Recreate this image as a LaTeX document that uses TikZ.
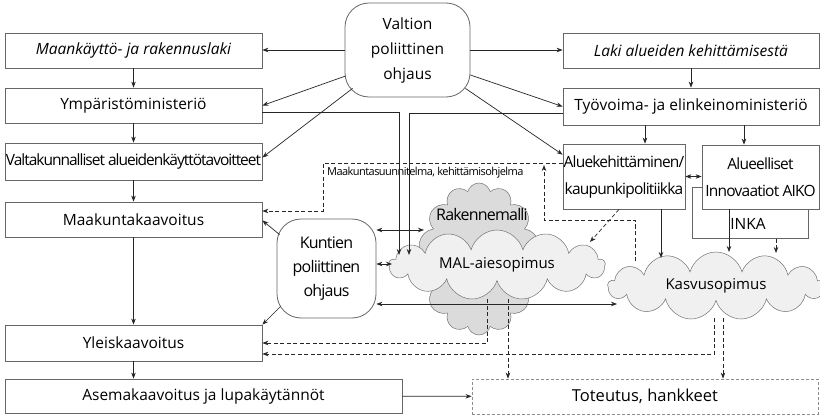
\documentclass[tikz,border=0pt]{standalone}
\usepackage{fontspec}
\setmainfont{Open Sans}
\newfontfamily\tightfont[LetterSpace=-5]{Open Sans}
\newfontfamily\tighterfont[LetterSpace=-6.5]{Open Sans}
\usetikzlibrary{shapes.symbols,calc,arrows.meta}
\begin{document}
\begin{tikzpicture}[x=1pt,y=-1pt,
 conn/.style={draw=black!85,line width=0.7pt},
 arr/.style={conn,-{Stealth[length=6pt,width=4.5pt]}},
 darr/.style={conn,{Stealth[length=6pt,width=4.5pt]}-{Stealth[length=6pt,width=4.5pt]}},
 dsh/.style={dash pattern=on 4pt off 2.5pt},
 box/.style={draw=black!60,line width=0.8pt,fill=white,inner sep=0pt,align=center,font=\fontsize{15.5}{18}\selectfont},
 rbox/.style={box,rounded corners=24pt},
 cl/.style={cloud,cloud puffs=13,cloud ignores aspect,draw=black!55,line width=0.5pt,inner sep=0pt,font=\fontsize{15}{18}\selectfont},
 txt/.style={inner sep=0pt,align=center,font=\fontsize{15}{18}\selectfont},
]
\useasboundingbox (0,0) rectangle (820,417);
\fill[white] (0,0) rectangle (820,417);

% left column
\node[box,minimum width=257pt,minimum height=35pt] (mrl) at (133.5,50.5) {\itshape Maankäyttö- ja rakennuslaki};
\node[box,minimum width=257pt,minimum height=35pt] (ym) at (133.5,105.5) {Ympäristöministeriö};
\node[box,minimum width=257pt,minimum height=37pt] (vat) at (133.5,161.5) {\tighterfont Valtakunnalliset alueidenkäyttötavoitteet};
\node[box,minimum width=257pt,minimum height=35pt] (mkk) at (133.5,219.5) {Maakuntakaavoitus};
\node[box,minimum width=257pt,minimum height=36pt] (yk) at (133.5,343) {Yleiskaavoitus};
\node[box,minimum width=397pt,minimum height=34pt] (ak) at (203.5,396) {Asemakaavoitus ja lupakäytännöt};
\node[box,draw=black!45,dash pattern=on 3pt off 2pt,minimum width=346pt,minimum height=35pt,font=\fontsize{16.5}{18}\selectfont] (tot) at (645,396.5) {Toteutus, hankkeet};

% centre
\node[rbox,minimum width=125pt,minimum height=94pt,font=\fontsize{15.5}{25}\selectfont] (val) at (407.5,50) {Valtion\\poliittinen\\ohjaus};
\node[rbox,minimum width=99pt,minimum height=99pt,font=\tightfont\fontsize{16}{24}\selectfont] (kun) at (326.5,268.5) {Kuntien\\poliittinen\\ohjaus};

% right column
\node[box,minimum width=256pt,minimum height=35pt] (laki) at (691,50.5) {\itshape Laki alueiden kehittämisestä};
\node[box,minimum width=256pt,minimum height=37pt] (tem) at (691,106.5) {Työvoima- ja elinkeinoministeriö};
\node[box,minimum width=122pt,minimum height=65pt,font=\tightfont\fontsize{15.5}{27}\selectfont] (alu) at (624,176.5) {Aluekehittäminen/\\kaupunkipolitiikka};
\node[box,minimum width=116pt,minimum height=51pt,anchor=north west] (inka) at (692,187) {};
\node[txt,font=\fontsize{15.5}{18}\selectfont] (inkat) at (748,224) {INKA};
\node[box,minimum width=117pt,minimum height=64pt,font=\tightfont\fontsize{15.5}{27}\selectfont] (aiko) at (760.5,177) {Alueelliset\\Innovaatiot AIKO};

% clouds
\node[cl,cloud puffs=14,fill=black!14,minimum width=122pt,minimum height=152pt] (rak) at (479,259) {};
\node[txt,font=\tightfont\fontsize{16}{18}\selectfont] (rakt) at (482,215) {Rakennemalli};
\node[cl,fill=black!6,minimum width=216pt,minimum height=70pt] (mal) at (497,265) {MAL-aiesopimus};
\node[cl,fill=black!6,minimum width=216pt,minimum height=68pt] (kas) at (716,286) {Kasvusopimus};

% label
\node[anchor=west,inner sep=0pt,font=\tightfont\fontsize{11}{13}\selectfont] (mslab) at (327,173) {Maakuntasuunnitelma, kehittämisohjelma};

% coordinates
\coordinate (malA) at (399,255);
\coordinate (malB) at (409,255);
\coordinate (malC) at (590,242);
\coordinate (malD) at (487,299);
\coordinate (malE) at (508,299);
\coordinate (kasA) at (635,261);
\coordinate (kasB) at (714,318);
\coordinate (kasC) at (723,318);
\coordinate (rakA) at (424,230);
\coordinate (malL) at (392,264);
\coordinate (kasL) at (617,304);
\coordinate (dUp) at (544,165);

% left chain
\draw[arr] (mrl) -- (ym);
\draw[arr] (ym) -- (vat);
\draw[arr] (vat) -- (mkk);
\draw[arr] (mkk) -- (yk);
\draw[arr] (yk.south) -- (yk.south |- ak.north);
\draw[arr] (ak) -- (tot);

% valtion
\draw[arr] (val.west) -- (val.west -| mrl.east);
\draw[arr] ($(val.west)+(1,26)$) -- (ym.east);
\draw[arr] ($(val.south west)+(8,-9)$) -- ($(vat.east)+(0,-4)$);
\draw[arr] (val.east) -- (val.east -| laki.west);
\draw[arr] ($(val.east)+(0,25)$) -- (tem.west);
\draw[arr] ($(val.south east)+(-5,-9)$) -- ($(alu.north west)+(0,11)$);

% right chain
\draw[arr] (laki) -- (tem);
\draw[arr] (tem.south -| 645,0) -- (alu.north -| 645,0);
\draw[arr] (tem.south -| 744,0) -- (aiko.north -| 744,0);
\draw[darr] (alu.east) -- (alu.east -| aiko.west);
\draw[arr] (alu.south -| 661,0) -- (661,258);
\draw[arr] (aiko.south -| 729,0) -- (729,252);
\draw[arr,dsh] (inka.south -| 776,0) -- (776,253);
\draw[arr,dsh] ($(alu.south)+(-5,0)$) -- (malC);

% ministries to MAL
\draw[arr] ($(ym.east)+(0,7)$) -| (malA);
\draw[arr] ($(tem.west)+(0,6.5)$) -| (malB);

% maakuntasuunnitelma
\draw[arr,dsh] ($(alu.west)+(0,-13.5)$) -| (323,211) -- ($(mkk.east)+(0,-8.5)$);
\draw[arr,dsh] (kasA) |- (544,220) -- (dUp);

% kuntien
\draw[arr] ($(kun.north west)+(3,16)$) -- ($(mkk.east)+(0,1)$);
\draw[arr] ($(kun.south west)+(4,-12)$) -- (yk.north east);
\draw[darr] (kun.east |- rakA) -- (rakA);
\draw[darr] (kun.east |- malL) -- (malL);
\draw[darr] (kun.east |- kasL) -- (kasL);

% to yleiskaavoitus
\draw[arr,dsh] (malD) |- (yk.east);
\draw[arr,dsh] (kasB) |- ($(yk.east)+(0,11)$);
% to toteutus
\draw[arr,dsh] (malE) -- (malE |- tot.north);
\draw[arr,dsh] (kasC) -- (kasC |- tot.north);
\end{tikzpicture}
\end{document}
